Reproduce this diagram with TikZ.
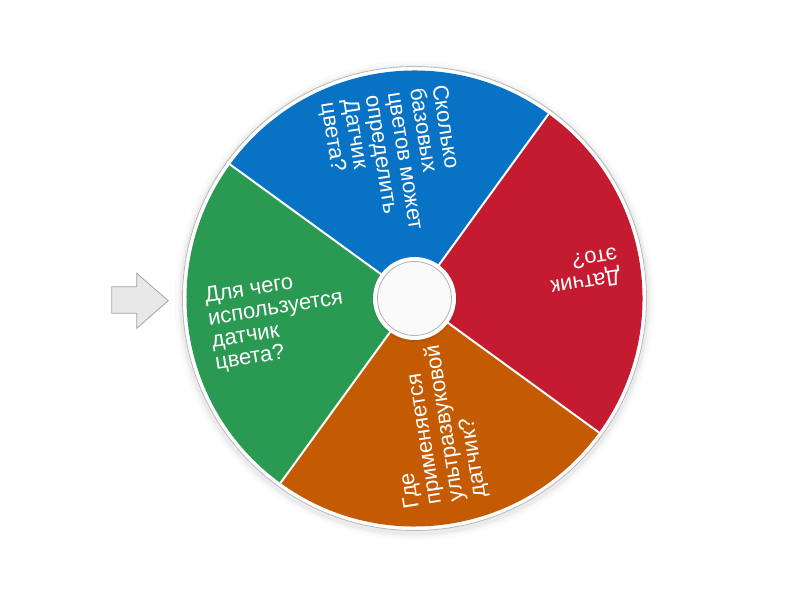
\documentclass[tikz,border=0pt]{standalone}
\usepackage{fontspec}
\setmainfont{Liberation Sans}
\definecolor{wheelblue}{HTML}{0872C4}
\definecolor{wheelred}{HTML}{C41B30}
\definecolor{wheelorange}{HTML}{C45A02}
\definecolor{wheelgreen}{HTML}{2A9A52}

\begin{document}
\begin{tikzpicture}[x = 1pt , y = 1pt ,
		question/.style = { text = white , align = left , anchor = west , inner sep = 0pt ,
			font = \fontsize{22}{22.5}\selectfont } ,
		pointer/.style = { fill = gray!18 , draw = gray!70 , line width = 0.8pt , line join = miter } ]
	\useasboundingbox[fill = white] (0,0) rectangle (800,600);
	\coordinate (c) at (414.5,301.5);
	\foreach \r/\o in {240/0.015, 237/0.025, 235/0.04}
		\fill[black , opacity = \o] ([yshift = -2pt]c) circle (\r);
	\filldraw[fill = white , draw = gray!55 , line width = 0.8pt] (c) circle (232);
	\foreach \a/\col in {-36/wheelred, 54/wheelblue, 144/wheelgreen, 234/wheelorange}
		\fill[fill = \col] (c) -- ++(\a:228) arc[start angle = \a , delta angle = 90 , radius = 228] -- cycle;
	\foreach \a in {-36, 54, 144, 234}
		\draw[white , line width = 2pt] (c) -- ++(\a:228);
	\fill[black , opacity = 0.06] ([yshift = -1.5pt]c) circle (42.5);
	\fill[white] (c) circle (41.5);
	\draw[gray!60 , fill = gray!4 , line width = 0.8pt] (c) circle (37);
	\node[question , rotate = 9] (green) at ([shift = {(189:207)}]c) {Для чего\\используется\\датчик\\цвета?};
	\node[question , rotate = -81] (blue) at ([shift = {(99:207)}]c) {Сколько\\базовых\\цветов может\\определить\\Датчик\\цвета?};
	\node[question , rotate = 189] (red) at ([shift = {(9:207)}]c) {Датчик\\это?};
	\node[question , rotate = 99] (orange) at ([shift = {(-81:207)}]c) {Где\\применяется\\ультразвуковой\\датчик?};
	\draw[pointer] (111.7,286.7) -- (136.7,286.7) -- (136.7,271.7) -- (168.3,299.3)
		-- (136.7,326.7) -- (136.7,313.3) -- (111.7,313.3) -- cycle;
\end{tikzpicture}
\end{document}
